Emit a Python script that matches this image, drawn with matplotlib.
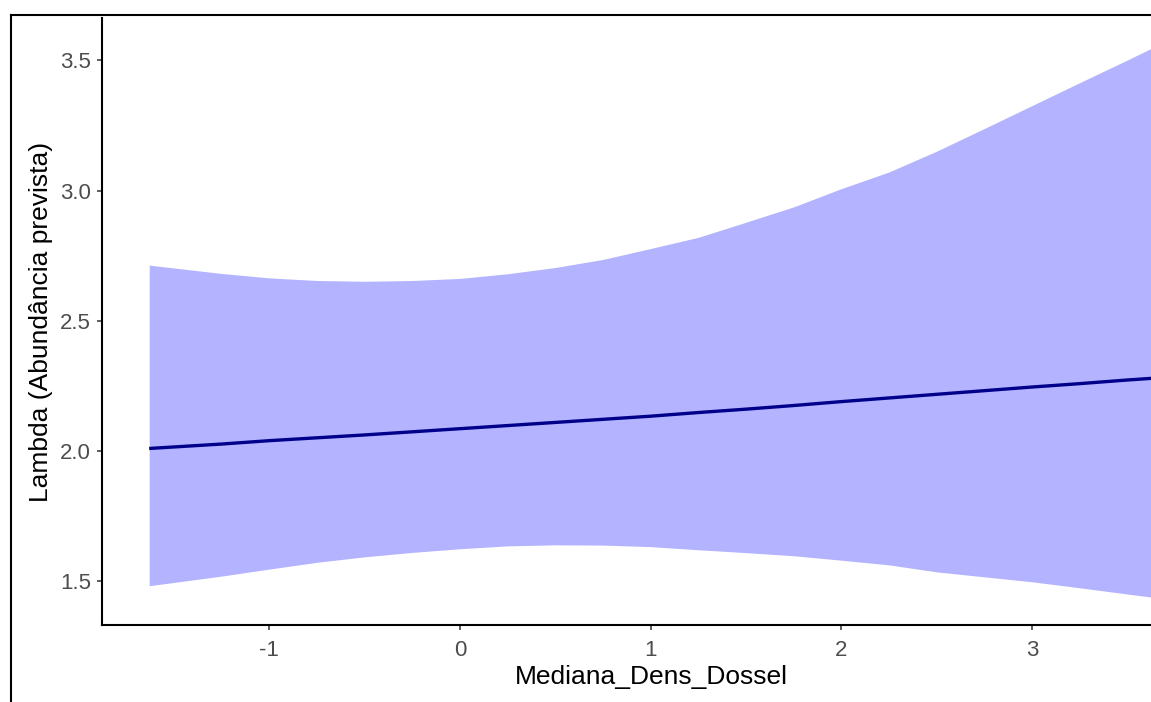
import matplotlib
matplotlib.use("Agg")
import matplotlib.pyplot as plt
from matplotlib.lines import Line2D

# values
dens_dossel = [-1.63, -1.25, -1.0, -0.75, -0.5, -0.25, 0.0, 0.25, 0.5, 0.75, 1.0,
               1.25, 1.5, 1.75, 2.0, 2.25, 2.5, 2.75, 3.0, 3.25, 3.5, 3.64]
lambda_fit = [2.010, 2.027, 2.040, 2.051, 2.062, 2.074, 2.086, 2.098, 2.110, 2.122, 2.134,
              2.148, 2.161, 2.175, 2.190, 2.204, 2.218, 2.232, 2.246, 2.259, 2.273, 2.280]
lambda_upper = [2.714, 2.682, 2.665, 2.655, 2.652, 2.655, 2.663, 2.681, 2.705, 2.736, 2.778,
                2.821, 2.879, 2.938, 3.008, 3.072, 3.152, 3.239, 3.327, 3.415, 3.502, 3.552]
lambda_lower = [1.483, 1.520, 1.547, 1.573, 1.594, 1.611, 1.625, 1.636, 1.640, 1.639, 1.633,
                1.621, 1.610, 1.598, 1.581, 1.563, 1.536, 1.517, 1.498, 1.475, 1.451, 1.438]

x_ticks = [-1, 0, 1, 2, 3]
y_ticks = [1.5, 2.0, 2.5, 3.0, 3.5]

plt.rcParams['font.family'] = ['Liberation Sans', 'DejaVu Sans']

W, H = 1151, 702
fig = plt.figure(figsize=(W / 100, H / 100), dpi=100)
# panel runs past the right edge, as in the cropped screenshot
ax = fig.add_axes([101.7 / W, 1 - 625.3 / H, (1201.7 - 101.7) / W, (625.3 - 18) / H])

ax.fill_between(dens_dossel, lambda_lower, lambda_upper, color="#B3B3FF", linewidth=0)
ax.plot(dens_dossel, lambda_fit, color="#00008B", linewidth=2.4, solid_capstyle="butt")

ax.set_xlim(-1.879, 3.889)
ax.set_ylim(1.331, 3.663)
ax.set_xticks(x_ticks)
ax.set_xticklabels([str(t) for t in x_ticks])
ax.set_yticks(y_ticks)
ax.set_yticklabels([f"{t:.1f}" for t in y_ticks])

for side in ["top", "right"]:
    ax.spines[side].set_visible(False)
for side in ["left", "bottom"]:
    ax.spines[side].set_color("black")
    ax.spines[side].set_linewidth(1.5)

ax.tick_params(axis="both", colors="#333333", labelcolor="#4D4D4D",
               length=3.6, width=1.1, labelsize=16)
ax.tick_params(axis="x", pad=7)
ax.tick_params(axis="y", pad=4)

ax.set_xlabel("Mediana_Dens_Dossel", fontsize=19, color="black", labelpad=3)
ax.set_ylabel("Lambda (Abundância prevista)", fontsize=19, color="black", labelpad=5)

# screenshot frame (top and left edges visible)
fx, fy = 10.7 / W, 1 - 15 / H
fig.add_artist(Line2D([fx, fx], [0, fy], transform=fig.transFigure, color="black", lw=1.5))
fig.add_artist(Line2D([fx, 1], [fy, fy], transform=fig.transFigure, color="black", lw=1.5))

fig.savefig("out.png", dpi=100)
